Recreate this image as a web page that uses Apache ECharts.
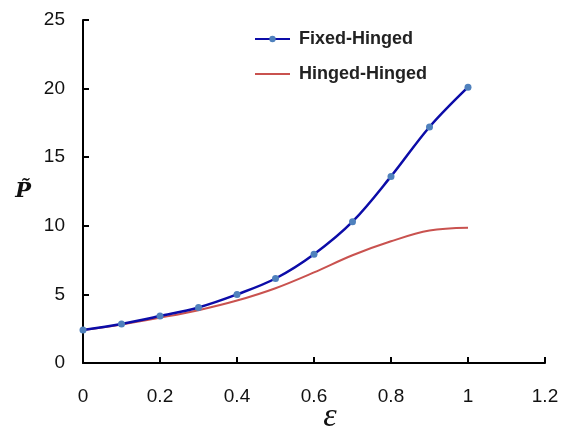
<!DOCTYPE html>
<html>
<head>
<meta charset="utf-8">
<script src="https://cdn.jsdelivr.net/npm/echarts@6/dist/echarts.min.js"></script>
<style>
  html, body { margin: 0; padding: 0; background: #fff; }
  #chart { width: 568px; height: 430px; }
</style>
</head>
<body>
<div id="chart"></div>
<script>
// strain values (x) and the two critical load curves
const epsilon = [0, 0.1, 0.2, 0.3, 0.4, 0.5, 0.6, 0.7, 0.8, 0.9, 1.0];
const fixedHinged = [2.4, 2.84, 3.42, 4.05, 5.0, 6.16, 7.93, 10.3, 13.6, 17.2, 20.1];
const hingedHinged = [2.4, 2.8, 3.3, 3.85, 4.55, 5.45, 6.6, 7.85, 8.87, 9.65, 9.85];
const seriesNames = ['Fixed-Hinged', 'Hinged-Hinged'];

const chart = echarts.init(document.getElementById('chart'));

const tickFont = { fontFamily: 'Liberation Sans, Arial, sans-serif', fontSize: 19, color: '#111' };

const option = {
  animation: false,
  backgroundColor: '#fff',
  grid: { left: 83, right: 23, top: 20, bottom: 67, containLabel: false, outerBoundsMode: 'none' },
  legend: {
    orient: 'vertical',
    left: 249,
    top: 24,
    itemWidth: 35,
    itemHeight: 8,
    itemGap: 15,
    data: [
      { name: seriesNames[0] },
      { name: seriesNames[1], itemStyle: { opacity: 0 } }
    ],
    textStyle: {
      fontFamily: 'Liberation Sans, Arial, sans-serif',
      fontSize: 18,
      fontWeight: 'bold',
      color: '#222',
      lineHeight: 20,
      padding: [0, 0, 0, 4]
    }
  },
  xAxis: {
    type: 'value',
    min: 0,
    max: 1.2,
    interval: 0.2,
    name: 'ε',
    nameLocation: 'middle',
    nameGap: 37,
    nameMoveOverlap: false,
    nameTextStyle: {
      fontFamily: 'Liberation Serif, serif', fontStyle: 'italic', fontSize: 34,
      color: '#111', lineHeight: 34, padding: [0, 0, 0, 32]
    },
    axisLine: { lineStyle: { color: '#000', width: 2 } },
    axisTick: { inside: true, length: 6, lineStyle: { color: '#000', width: 2 } },
    axisLabel: Object.assign({ margin: 24 }, tickFont),
    splitLine: { show: false }
  },
  yAxis: {
    type: 'value',
    min: 0,
    max: 25,
    interval: 5,
    name: 'P\u0303',
    nameLocation: 'middle',
    nameGap: 52,
    nameRotate: 0,
    nameMoveOverlap: false,
    nameTextStyle: { fontFamily: 'DejaVu Serif, serif', fontStyle: 'italic', fontWeight: 'bold', fontSize: 21, color: '#111' },
    axisLine: { show: true, lineStyle: { color: '#000', width: 2 } },
    axisTick: { show: true, inside: true, length: 6, lineStyle: { color: '#000', width: 2 } },
    axisLabel: Object.assign({ margin: 18 }, tickFont),
    splitLine: { show: false }
  },
  series: [
    {
      name: seriesNames[0],
      type: 'line',
      smooth: 0.35,
      data: epsilon.map((x, i) => [x, fixedHinged[i]]),
      symbol: 'circle',
      symbolSize: 7,
      itemStyle: { color: '#4f81bd' },
      lineStyle: { color: '#0c0ca8', width: 2.5 },
      z: 3
    },
    {
      name: seriesNames[1],
      type: 'line',
      smooth: 0.35,
      data: epsilon.map((x, i) => [x, hingedHinged[i]]),
      showSymbol: false,
      symbol: 'none',
      itemStyle: { color: '#c0504d' },
      lineStyle: { color: '#c9524f', width: 2 },
      z: 2
    }
  ]
};

chart.setOption(option);
</script>
</body>
</html>
